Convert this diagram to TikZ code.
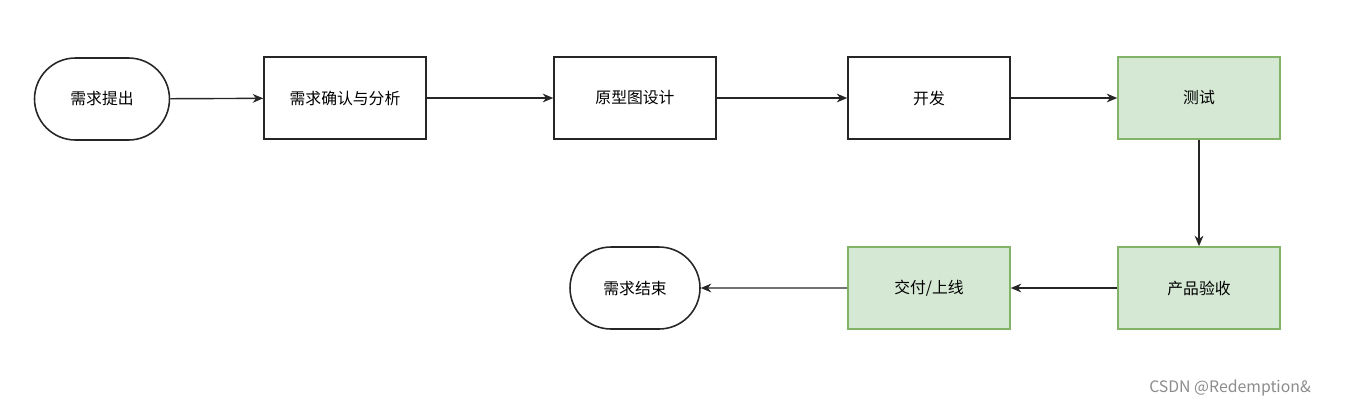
\documentclass[tikz,border=0pt]{standalone}
\usepackage{fontspec}
\setmainfont{Noto Sans CJK SC}
\usetikzlibrary{arrows.meta,shapes.misc}
\definecolor{gfill}{HTML}{D5E8D4}
\definecolor{gline}{HTML}{82B366}
\begin{document}
\begin{tikzpicture}[x=0.02cm,y=-0.02cm,
  box/.style={draw=black!85,line width=0.9pt,minimum width=3.24cm,minimum height=1.64cm,font=\fontsize{9}{11}\selectfont,inner sep=0},
  gbox/.style={box,draw=gline,fill=gfill},
  term/.style={box,rounded rectangle,minimum width=2.7cm,minimum height=1.64cm},
  arr/.style={-{Stealth[length=6pt,width=5pt]},line width=0.8pt,black!85}]
\useasboundingbox (0,0) rectangle (1345,410);
\node[term] (a) at (102,99) {需求提出};
\node[box] (b) at (345,98) {需求确认与分析};
\node[box] (c) at (635,98) {原型图设计};
\node[box] (d) at (929,98) {开发};
\node[gbox] (e) at (1199,98) {测试};
\node[gbox] (f) at (1199,288) {产品验收};
\node[gbox] (g) at (929,288) {交付/上线};
\node[term,minimum width=2.6cm] (h) at (635,288) {需求结束};
\draw[arr] (a) -- (b);
\draw[arr] (b) -- (c);
\draw[arr] (c) -- (d);
\draw[arr] (d) -- (e);
\draw[arr] (e) -- (f);
\draw[arr] (f) -- (g);
\draw[arr] (g) -- (h);
\node[text=black!45,font=\fontsize{9}{11}\selectfont] (w) at (1230,388) {CSDN @Redemption\&};
\end{tikzpicture}
\end{document}
